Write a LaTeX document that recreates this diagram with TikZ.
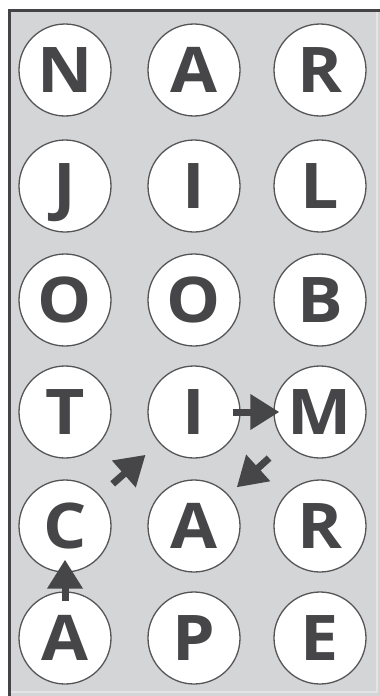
\documentclass[tikz,border=0pt]{standalone}
\usepackage{fontspec}
\setmainfont{Open Sans}
\newfontfamily\letterfont{Open Sans}[FakeStretch=1.08]
\usetikzlibrary{arrows.meta}
\definecolor{bg}{RGB}{212,213,215}
\definecolor{ink}{RGB}{70,70,72}
\definecolor{ring}{RGB}{85,85,87}
\definecolor{edge}{RGB}{68,68,70}
\definecolor{hilite}{RGB}{228,229,231}
\tikzset{
  letter/.style={circle,draw=ring,line width=1.3pt,fill=white,minimum size=92pt,inner sep=0pt,
    text=ink,font=\letterfont\fontsize{63}{63}\selectfont\bfseries,text height=45pt,text depth=0pt},
  pathar/.style={draw=ink,line width=7pt,-{Triangle[length=29pt,width=34pt]}}
}
\begin{document}
\begin{tikzpicture}[x=1pt,y=-1pt]
\useasboundingbox (0,0) rectangle (380,696);
\fill[white] (0,0) rectangle (380,696);
\fill[bg] (9,10) rectangle (380,696);
\draw[hilite,line width=1.5pt] (377,12) -- (377,692) -- (11,692);
\draw[edge,line width=2.2pt] (9.5,696) -- (9.5,10.5) -- (380,10.5);
% row 1
\node[letter] (n1) at (65,70) {N};
\node[letter] (a1) at (194,70) {A};
\node[letter] (r1) at (320,70) {R};
% row 2
\node[letter] (j2) at (65,186) {J};
\node[letter] (i2) at (194,186) {I};
\node[letter] (l2) at (320,186) {L};
% row 3
\node[letter] (o3) at (65,300) {O};
\node[letter] (oo3) at (194,300) {O};
\node[letter] (b3) at (320,300) {B};
% row 4
\node[letter] (t4) at (65,412) {T};
\node[letter] (i4) at (194,412) {I};
\node[letter] (m4) at (320,412) {M};
% row 5
\node[letter] (c5) at (65,526) {C};
\node[letter] (a5) at (194,526) {A};
\node[letter] (r5) at (320,526) {R};
% row 6
\node[letter] (a6) at (65,638) {A};
\node[letter] (p6) at (194,638) {P};
\node[letter] (e6) at (320,638) {E};
% arrows
\draw[pathar,shorten <=-10pt,shorten >=-13pt] (a6.north) -- (c5.south);
\draw[pathar,shorten <=17pt,shorten >=18pt] (c5) -- (i4);
\draw[pathar,shorten <=-8pt,shorten >=-6pt] (i4.east) -- (m4.west);
\draw[pathar,shorten <=22pt,shorten >=11pt] (m4) -- (a5);
\end{tikzpicture}
\end{document}
